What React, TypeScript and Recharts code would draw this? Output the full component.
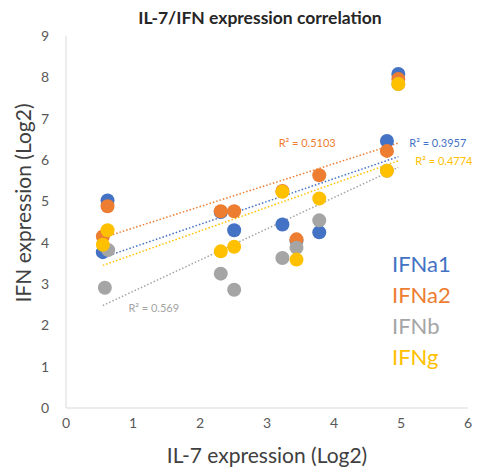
import React from 'react';
import {
  ScatterChart,
  Scatter,
  XAxis,
  YAxis,
  ReferenceLine,
  ReferenceDot,
  Legend,
} from 'recharts';

// ---- data ----
const xTicks = [0, 1, 2, 3, 4, 5, 6];
const yTicks = [0, 1, 2, 3, 4, 5, 6, 7, 8, 9];

const ifna1X = [0.55, 0.62, 2.31, 2.51, 3.23, 3.44, 3.78, 4.79, 4.96];
const ifna1Y = [3.77, 5.02, 4.74, 4.3, 4.44, 4.05, 4.25, 6.46, 8.08];

const ifna2X = [0.55, 0.62, 2.31, 2.51, 3.23, 3.44, 3.78, 4.79, 4.96];
const ifna2Y = [4.15, 4.88, 4.76, 4.76, 5.25, 4.08, 5.63, 6.22, 7.96];

const ifnbX = [0.58, 0.63, 2.31, 2.51, 3.23, 3.44, 3.78, 4.79, 4.96];
const ifnbY = [2.91, 3.82, 3.25, 2.86, 3.63, 3.88, 4.54, 5.74, 7.84];

const ifngX = [0.55, 0.62, 2.31, 2.51, 3.23, 3.44, 3.78, 4.79, 4.96];
const ifngY = [3.95, 4.3, 3.79, 3.9, 5.23, 3.59, 5.07, 5.74, 7.84];

// trendline endpoints (x start/end, y start/end)
const trendX = [0.55, 4.96];
const ifna1Trend = [3.64, 6.08];
const ifna2Trend = [4.12, 6.41];
const ifnbTrend = [2.48, 5.82];
const ifngTrend = [3.45, 5.98];

const r2Labels = ['R² = 0.3957', 'R² = 0.5103', 'R² = 0.569', 'R² = 0.4774'];
const r2LabelX = [5.55, 3.6, 1.31, 5.64];
const r2LabelY = [6.41, 6.41, 2.42, 5.98];

const seriesNames = ['IFNa1', 'IFNa2', 'IFNb', 'IFNg'];
const colors = ['#4472C4', '#ED7D31', '#A5A5A5', '#FFC000'];

const toPoints = (xs: number[], ys: number[]) => xs.map((x, i) => ({ x, y: ys[i] }));

const series = [
  { name: seriesNames[0], data: toPoints(ifna1X, ifna1Y), trend: ifna1Trend },
  { name: seriesNames[1], data: toPoints(ifna2X, ifna2Y), trend: ifna2Trend },
  { name: seriesNames[2], data: toPoints(ifnbX, ifnbY), trend: ifnbTrend },
  { name: seriesNames[3], data: toPoints(ifngX, ifngY), trend: ifngTrend },
];

const FONT = 'Lato, "Open Sans", sans-serif';

const makeShape = (color: string) => (props: any) => (
  <circle cx={props.cx} cy={props.cy} r={7} fill={color} />
);

const LegendContent = (props: any) => {
  const payload = props.payload || [];
  return (
    <div style={{ fontFamily: FONT }}>
      {payload.map((p: any) => (
        <div key={p.value} style={{ color: p.color, fontSize: 22, lineHeight: '31px' }}>
          {p.value}
        </div>
      ))}
    </div>
  );
};

const YLabel = (props: any) => {
  const vb = props.viewBox || {};
  const cx = 22;
  const cy = (vb.y || 0) + (vb.height || 0) / 2 - 19;
  return (
    <text
      x={cx}
      y={cy}
      transform={`rotate(-90 ${cx} ${cy})`}
      textAnchor="middle"
      dominantBaseline="central"
      fill="#404040"
      fontSize={21}
      fontFamily={FONT}
    >
      IFN expression (Log2)
    </text>
  );
};

export default function App() {
  return (
    <div style={{ position: 'absolute', left: 0, top: 0, width: 477, height: 473, background: '#fff', fontFamily: FONT }}>
      <div
        style={{
          position: 'absolute',
          left: 0,
          top: 7,
          width: 520,
          textAlign: 'center',
          fontWeight: 700,
          fontSize: 17.5,
          lineHeight: '22px',
          color: '#262626',
          fontFamily: FONT,
        }}
      >
        IL-7/IFN expression correlation
      </div>
      <ScatterChart width={477} height={473} margin={{ top: 36, right: 9, bottom: 0, left: 0 }}>
        <XAxis
          type="number"
          dataKey="x"
          domain={[0, 6]}
          ticks={xTicks}
          height={65}
          tickLine={false}
          axisLine={{ stroke: '#D9D9D9' }}
          tick={{ fill: '#595959', fontSize: 14, fontFamily: FONT }}
          tickMargin={4}
          label={{ value: 'IL-7 expression (Log2)', position: 'insideBottom', offset: 10, fill: '#404040', fontSize: 21, fontFamily: FONT }}
        />
        <YAxis
          type="number"
          dataKey="y"
          domain={[0, 9]}
          ticks={yTicks}
          width={66}
          tickLine={false}
          axisLine={{ stroke: '#D9D9D9' }}
          tick={{ fill: '#595959', fontSize: 14, fontFamily: FONT }}
          tickMargin={11}
          label={<YLabel />}
        />
        {series.map((s, i) => (
          <ReferenceLine
            key={'t' + s.name}
            segment={[
              { x: trendX[0], y: s.trend[0] },
              { x: trendX[1], y: s.trend[1] },
            ]}
            stroke={colors[i]}
            strokeWidth={1.5}
            strokeDasharray="1.5 2"
          />
        ))}
        {series.map((s, i) => (
          <Scatter
            key={s.name}
            name={s.name}
            data={s.data}
            fill={colors[i]}
            shape={makeShape(colors[i])}
            isAnimationActive={false}
          />
        ))}
        {r2Labels.map((t, i) => (
          <ReferenceDot
            key={'r' + i}
            x={r2LabelX[i]}
            y={r2LabelY[i]}
            r={0}
            fill="none"
            stroke="none"
            label={{ value: t, position: 'center', fill: colors[i], fontSize: 11, fontFamily: FONT }}
          />
        ))}
        <Legend
          layout="vertical"
          align="center"
          verticalAlign="middle"
          content={<LegendContent />}
          wrapperStyle={{ position: 'absolute', left: 392, top: 248, width: 85 }}
        />
      </ScatterChart>
    </div>
  );
}
